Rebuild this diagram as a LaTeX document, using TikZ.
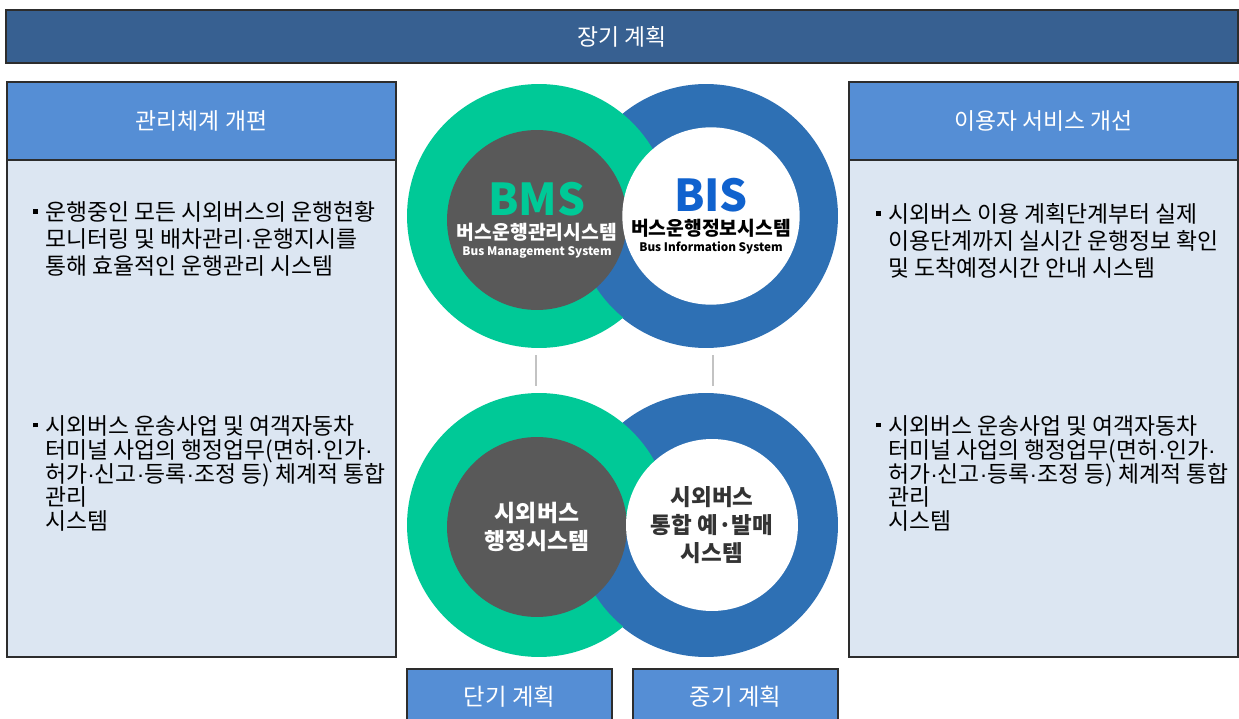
\documentclass[tikz,border=0pt]{standalone}
\usepackage{fontspec}
\setmainfont{Noto Sans CJK KR}
\newfontfamily\latinfont{Liberation Sans}
\usetikzlibrary{positioning}

\definecolor{bannerblue}{RGB}{55,96,145}
\definecolor{headblue}{RGB}{85,142,213}
\definecolor{bodyblue}{RGB}{220,230,242}
\definecolor{bmsgreen}{RGB}{0,201,151}
\definecolor{bisblue}{RGB}{46,112,180}
\definecolor{bistext}{RGB}{16,98,206}
\definecolor{coregray}{RGB}{89,89,89}
\definecolor{framegray}{RGB}{45,45,45}
\definecolor{linkgray}{RGB}{195,195,195}

\newcommand{\itemmark}{\makebox[6.8pt][l]{\raisebox{0.3em}{\rule{2.6pt}{2.6pt}}}}
\newcommand{\hangmark}{\hspace*{6.8pt}}
\newcommand{\mdot}{{\latinfont ·}}

\begin{document}
\begin{tikzpicture}[
    x=0.02cm, y=-0.02cm,
    font=\fontsize{13}{15.3}\selectfont,
    frame/.style={draw=framegray, line width=0.9pt, outer sep=0pt, inner sep=0pt},
    banner/.style={frame, fill=bannerblue, text=white, minimum width=24.64cm,
                   minimum height=1.06cm, font=\fontsize{13}{15}\selectfont},
    head/.style={frame, fill=headblue, text=white, minimum width=7.78cm,
                 minimum height=1.56cm, font=\fontsize{13}{15}\selectfont},
    panel/.style={frame, fill=bodyblue, minimum width=7.78cm, minimum height=9.94cm},
    term/.style={frame, fill=headblue, text=white, minimum width=4.1cm,
                 minimum height=1.12cm, font=\fontsize{13.3}{15}\selectfont},
    ring/.style={circle, inner sep=0pt, outer sep=0pt, minimum size=5.28cm},
    core/.style={circle, inner sep=0pt, outer sep=0pt, align=center, font=\bfseries},
    bullets/.style={anchor=north west, inner sep=0pt, align=left},
    link/.style={draw=linkgray, line width=0.9pt},
]
\useasboundingbox (0,0) rectangle (1239,719);

% =====================  TOP BANNER  =====================
\node[banner] (longterm) at (622,36.5) {장기 계획};

% =====================  LEFT PANEL  =====================
\node[head]                        (lefthead) at (201.5,121) {관리체계 개편};
\node[panel, below=0pt of lefthead] (leftbody) {};

\node[bullets] (leftone) at (33,201)
  {\itemmark 운행중인 모든 시외버스의 운행현황\\
   \hangmark 모니터링 및 배차관리\mdot{}운행지시를\\
   \hangmark 통해 효율적인 운행관리 시스템};
\node[bullets, font=\fontsize{13}{13.6}\selectfont] (lefttwo) at (33,415)
  {\itemmark 시외버스 운송사업 및 여객자동차\\
   \hangmark 터미널 사업의 행정업무(면허\mdot{}인가\mdot\\
   \hangmark 허가\mdot{}신고\mdot{}등록\mdot{}조정 등) 체계적 통합\\
   \hangmark 관리\\
   \hangmark 시스템};

% =====================  RIGHT PANEL  =====================
\node[head]                         (righthead) at (1043.5,121) {이용자 서비스 개선};
\node[panel, below=0pt of righthead] (rightbody) {};

\node[bullets] (rightone) at (876,203)
  {\itemmark 시외버스 이용 계획단계부터 실제\\
   \hangmark 이용단계까지 실시간 운행정보 확인\\
   \hangmark 및 도착예정시간 안내 시스템};
\node[bullets, font=\fontsize{13}{13.6}\selectfont] (righttwo) at (876,415)
  {\itemmark 시외버스 운송사업 및 여객자동차\\
   \hangmark 터미널 사업의 행정업무(면허\mdot{}인가\mdot\\
   \hangmark 허가\mdot{}신고\mdot{}등록\mdot{}조정 등) 체계적 통합\\
   \hangmark 관리\\
   \hangmark 시스템};

% =====================  RINGS  =====================
% blue rings first, green over them, then the lower half of blue again
\node[ring, fill=bisblue]  (bisring)   at (706,216) {};
\node[ring, fill=bisblue]  (ticketring) at (706,525) {};
\node[ring, fill=bmsgreen] (bmsring)   at (539,216) {};
\node[ring, fill=bmsgreen] (adminring) at (539,525) {};

\begin{scope}
  \clip (560,216) rectangle (850,360);
  \fill[bisblue] (bisring.center) circle[radius=131];
\end{scope}
\begin{scope}
  \clip (560,525) rectangle (850,670);
  \fill[bisblue] (ticketring.center) circle[radius=131];
\end{scope}

\node[core, fill=coregray, text=white, minimum size=3.6cm] (bms) at (537,220)
  {{\fontsize{25}{25}\selectfont\color{bmsgreen}BMS}\\[2pt]
   {\fontsize{11}{12}\selectfont 버스운행관리시스템}\\[-3pt]
   {\fontsize{6.7}{8}\selectfont Bus Management System}};
\node[core, fill=white, text=black, minimum size=3.4cm] (bis) at (711,216)
  {{\fontsize{25}{25}\selectfont\color{bistext}BIS}\\[2pt]
   {\fontsize{11}{12}\selectfont 버스운행정보시스템}\\[-3pt]
   {\fontsize{6.7}{8}\selectfont Bus Information System}};

\node[core, fill=coregray, text=white, minimum size=3.6cm,
      font=\bfseries\fontsize{13}{16}\selectfont] (admin) at (537,527)
  {시외버스\\행정시스템};
\node[core, fill=white, text=black!80, minimum size=3.44cm,
      font=\bfseries\fontsize{12.8}{16}\selectfont] (ticket) at (712,525)
  {시외버스\\통합 예·발매\\시스템};

% links between short and mid term rings
\draw[link] ([xshift=-1.7pt, yshift=-4pt]bmsring.south) -- ([xshift=-1.7pt, yshift=4pt]adminring.north);
\draw[link] ([xshift=4pt, yshift=-4pt]bisring.south) -- ([xshift=4pt, yshift=4pt]ticketring.north);

% =====================  BOTTOM TERMS  =====================
\node[term] (shortterm) at (509.5,697) {단기 계획};
\node[term] (midterm)   at (735.5,697) {중기 계획};

\end{tikzpicture}
\end{document}
